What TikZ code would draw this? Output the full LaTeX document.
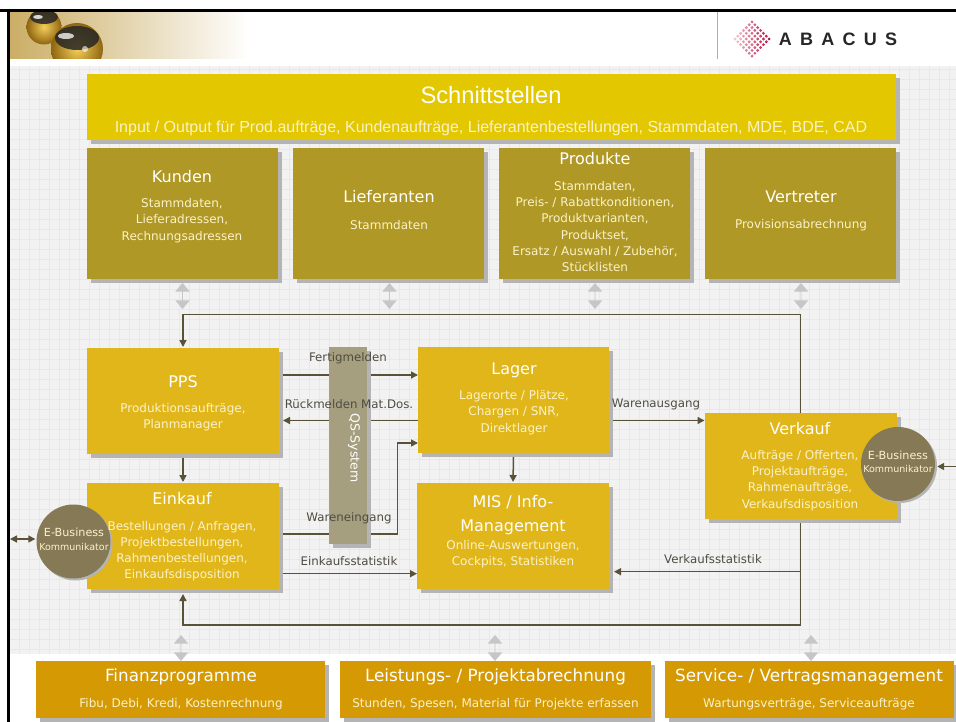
\documentclass[tikz,border=0pt]{standalone}
\usepackage{fontspec}
\setmainfont{DejaVu Sans}
\newfontfamily\arialf{Liberation Sans}
\usetikzlibrary{arrows.meta,shapes.arrows,shadows,calc}
\definecolor{bgg}{HTML}{F2F2F2}
\definecolor{gridg}{HTML}{E8E8E8}
\definecolor{shg}{HTML}{B4B4B4}
\definecolor{topy}{HTML}{E3C700}
\definecolor{olive}{HTML}{B09826}
\definecolor{gold}{HTML}{E1B61A}
\definecolor{orng}{HTML}{D59A03}
\definecolor{qsc}{HTML}{A69F7F}
\definecolor{circ}{HTML}{857A55}
\definecolor{linec}{HTML}{5A5238}
\definecolor{gra}{HTML}{C6C6C6}
\definecolor{lblc}{HTML}{4F4C40}
\definecolor{subw}{HTML}{FBF2C8}
\definecolor{crim}{HTML}{B80A3C}
\definecolor{hdra}{HTML}{CBAE66}
\definecolor{hdrb}{HTML}{EBD5B4}
\definecolor{ballo}{HTML}{8F6410}
\definecolor{balli}{HTML}{F3CF5A}
\tikzset{
  pbox/.style={rectangle,inner sep=0pt,outer sep=0pt,general shadow={shadow xshift=4pt,shadow yshift=-4pt,fill=shg}},
  conn/.style={draw=linec,line width=1.5pt,-{Triangle[length=7pt,width=7pt]}},
  dconn/.style={draw=linec,line width=1.5pt,{Triangle[length=7pt,width=7pt]}-{Triangle[length=7pt,width=7pt]}},
  gar/.style={double arrow,fill=gra,draw=none,shape border rotate=90,minimum height=26pt,minimum width=14.5pt,inner sep=0pt,double arrow head extend=3.5pt,double arrow tip angle=80},
  ttl/.style={text=white,font=\fontsize{16}{18}\selectfont,inner sep=0pt,align=center},
  ttlbig/.style={text=white,font=\fontsize{16.8}{18}\selectfont,inner sep=0pt,align=center},
  ttlb/.style={text=white,font=\fontsize{16}{24}\selectfont,inner sep=0pt,align=center},
  bod/.style={text=subw,font=\fontsize{12}{16.2}\selectfont,inner sep=0pt,align=center},
  lbl/.style={text=lblc,font=\fontsize{11.8}{13}\selectfont,inner sep=0pt},
  ebt/.style={text=subw,font=\fontsize{11.2}{13}\selectfont,inner sep=0pt},
  ebs/.style={text=subw,font=\fontsize{9.5}{13}\selectfont,inner sep=0pt},
  ecirc/.style={circle,fill=circ,inner sep=0pt,minimum size=74pt,general shadow={shadow xshift=2pt,shadow yshift=-2pt,fill=shg}},
}
\begin{document}
\begin{tikzpicture}[x=1pt,y=-1pt]
\useasboundingbox (0,0) rectangle (956,722);
% page frame and background
\fill[white] (0,0) rectangle (956,722);
\fill[bgg] (10,66) rectangle (956,654);
\begin{scope}
\clip (10,66) rectangle (956,654);
\foreach \gx in {19,29,...,955} \draw[gridg,line width=0.9pt] (\gx,66) -- (\gx,654);
\foreach \gy in {69,79,...,654} \draw[gridg,line width=0.9pt] (10,\gy) -- (956,\gy);
\end{scope}
% header picture
\shade[left color=hdra,middle color=hdrb,right color=white] (10,12) rectangle (250,59);
\begin{scope}
\clip (10,12) rectangle (250,59);
\shade[inner color=balli,outer color=ballo] (44,27) circle (17.5);
\fill[black!85,opacity=.85] (44,17) ellipse (14 and 7);
\fill[white,opacity=.8] (38,17) ellipse (5 and 2);
\shade[inner color=balli,outer color=ballo] (77,49) circle (26);
\fill[black!85,opacity=.85] (77,38) ellipse (22 and 12);
\fill[white,opacity=.75] (66,36) ellipse (8 and 3);
\fill[white,opacity=.6] (85,49) circle (3);
\end{scope}
\draw[line width=1pt,draw=hdra] (717,12) -- (717,59);
\fill[black] (0,9) rectangle (956,12);
\fill[black] (7,9) rectangle (10,722);
% logo
\foreach \li in {0,...,6} \foreach \lj in {0,...,6} {
  \pgfmathsetmacro{\lx}{752+(\li-\lj)*2.85}
  \pgfmathsetmacro{\ly}{39+(\li+\lj-6)*2.85}
  \pgfmathtruncatemacro{\lmix}{22+(\li+6-\lj)*6.4}
  \fill[crim!\lmix!white] (\lx,\ly) circle (1.6);
}
\node[inner sep=0pt,text=black!85,font=\arialf\bfseries\fontsize{18}{20}\selectfont\addfontfeature{LetterSpace=46}] (logo) at (838,39) {ABACUS};
% boxes
\node[pbox,fill=topy,minimum width=809pt,minimum height=66pt] (schnitt) at (491.5,107) {};
\node[pbox,fill=olive,minimum width=191pt,minimum height=131pt] (kunden) at (182.5,213.5) {};
\node[pbox,fill=olive,minimum width=191pt,minimum height=131pt] (liefer) at (388.5,213.5) {};
\node[pbox,fill=olive,minimum width=191pt,minimum height=131pt] (prod) at (594.5,213.5) {};
\node[pbox,fill=olive,minimum width=191pt,minimum height=131pt] (vertr) at (800.5,213.5) {};
\node[pbox,fill=gold,minimum width=192pt,minimum height=106pt] (pps) at (183,401) {};
\node[pbox,fill=gold,minimum width=191pt,minimum height=106pt] (lager) at (513.5,400) {};
\node[pbox,fill=gold,minimum width=192pt,minimum height=106pt] (eink) at (183,536) {};
\node[pbox,fill=gold,minimum width=192pt,minimum height=106pt] (mis) at (513,536) {};
\node[pbox,fill=gold,minimum width=192pt,minimum height=106pt] (verk) at (800.5,466) {};
\node[pbox,fill=orng,minimum width=289pt,minimum height=57pt] (fin) at (180.5,689.5) {};
\node[pbox,fill=orng,minimum width=311pt,minimum height=57pt] (leist) at (495.5,689.5) {};
\node[pbox,fill=orng,minimum width=289pt,minimum height=57pt] (serv) at (809.5,689.5) {};
% grey double arrows
\node[gar] (ga1) at (182.5,296) {};
\node[gar] (ga2) at (389.5,296) {};
\node[gar] (ga3) at (595,296) {};
\node[gar] (ga4) at (801,296) {};
\node[gar] (ga5) at (181,648) {};
\node[gar] (ga6) at (495,648) {};
\node[gar] (ga7) at (811,648) {};
% connectors
\coordinate (toprail) at (0,314.5);
\coordinate (botrail) at (0,625);
\coordinate (wrail) at (397.5,0);
\coordinate (leftend) at (10,539);
\coordinate (rightend) at (956,466.5);
\draw[conn] (verk.north) -- (verk.north |- toprail) -| ([yshift=1pt]pps.north);
\draw[conn] ([yshift=-4pt]verk.south) -- (verk.south |- botrail) -| ([yshift=-5pt]eink.south);
\draw[conn] ([xshift=4pt,yshift=26pt]pps.east) -- ([yshift=25pt]lager.west);
\draw[conn] ([yshift=-20.5pt]lager.west) -- ([xshift=4pt,yshift=-19.5pt]pps.east);
\draw[conn] ([yshift=-4pt]pps.south) -- ([yshift=1pt]eink.north);
\draw[conn] ([yshift=-4pt]lager.south) -- ([yshift=1pt]mis.north);
\draw[conn] ([xshift=4pt,yshift=2pt]eink.east) -- (wrail |- {$(eink.east)+(0,-2)$}) |- ([yshift=-43pt]lager.west);
\draw[conn] ([xshift=4pt,yshift=-37.7pt]eink.east) -- ([yshift=-37.7pt]mis.west);
\draw[conn] (verk.south |- {$(mis.east)+(0,35.7)$}) -- ([xshift=5pt,yshift=-35.7pt]mis.east);
\draw[conn] ([xshift=4pt,yshift=-20.5pt]lager.east) -- ([yshift=45.5pt]verk.west);
% QS bar
\node[pbox,fill=qsc,minimum width=38pt,minimum height=197pt] (qs) at (348,445.5) {};
\node[text=white,rotate=-90,inner sep=0pt,font=\fontsize{12.5}{14}\selectfont] (qst) at (354,448) {QS-System};
% circles
\node[ecirc] (ebl) at (73.5,541.5) {};
\node[ecirc] (ebr) at (898,464) {};
\draw[dconn] (leftend) -- ([xshift=-1pt,yshift=2.5pt]ebl.west);
\draw[conn] (rightend) -- ([xshift=2pt,yshift=-2.5pt]ebr.east);
% texts
\node[text=white,inner sep=0pt,font=\arialf\fontsize{23.7}{26}\selectfont] (t0) at (491,95) {Schnittstellen};
\node[text=subw,inner sep=0pt,font=\arialf\fontsize{16}{18}\selectfont] (b0) at (491,128) {Input / Output für Prod.aufträge, Kundenaufträge, Lieferantenbestellungen, Stammdaten, MDE, BDE, CAD};
\node[ttl] (t1) at (182,177) {Kunden};
\node[bod] (b1) at (182,220.5) {Stammdaten,\\Lieferadressen,\\Rechnungsadressen};
\node[ttl] (t2) at (389,197) {Lieferanten};
\node[bod] (b2) at (389,225) {Stammdaten};
\node[ttl] (t3) at (595,159) {Produkte};
\node[bod] (b3) at (595,226.5) {Stammdaten,\\Preis- / Rabattkonditionen,\\Produktvarianten,\\Produktset,\\Ersatz / Auswahl / Zubehör,\\Stücklisten};
\node[ttl] (t4) at (801,197) {Vertreter};
\node[bod] (b4) at (801,225) {Provisionsabrechnung};
\node[ttl] (t5) at (183,382) {PPS};
\node[bod] (b5) at (183,417) {Produktionsaufträge,\\Planmanager};
\node[ttl] (t6) at (514,370) {Lager};
\node[bod] (b6) at (514,412.5) {Lagerorte / Plätze,\\Chargen / SNR,\\Direktlager};
\node[ttl] (t7) at (182,499) {Einkauf};
\node[bod] (b7) at (182,551) {Bestellungen / Anfragen,\\Projektbestellungen,\\Rahmenbestellungen,\\Einkaufsdisposition};
\node[ttlb] (t8) at (513,515) {MIS / Info-\\Management};
\node[bod] (b8) at (513,554) {Online-Auswertungen,\\Cockpits, Statistiken};
\node[ttl] (t9) at (800,429) {Verkauf};
\node[bod] (b9) at (800,480.5) {Aufträge / Offerten,\\Projektaufträge,\\Rahmenaufträge,\\Verkaufsdisposition};
\node[ttlbig] (t10) at (181,677) {Finanzprogramme};
\node[bod] (b10) at (181,704) {Fibu, Debi, Kredi, Kostenrechnung};
\node[ttlbig] (t11) at (495.5,677) {Leistungs- / Projektabrechnung};
\node[bod] (b11) at (495.5,704) {Stunden, Spesen, Material für Projekte erfassen};
\node[ttlbig] (t12) at (809,677) {Service- / Vertragsmanagement};
\node[bod] (b12) at (809,704) {Wartungsverträge, Serviceaufträge};
\node[ebt] (e1) at (74,532.5) {E-Business};
\node[ebs] (e2) at (74,547) {Kommunikator};
\node[ebt] (e3) at (898,455) {E-Business};
\node[ebs] (e4) at (898,469) {Kommunikator};
% connector labels
\node[lbl] (l1) at (348,358) {Fertigmelden};
\node[lbl] (l2) at (349,404) {Rückmelden Mat.Dos.};
\node[lbl] (l3) at (349,518) {Wareneingang};
\node[lbl] (l4) at (349,561) {Einkaufsstatistik};
\node[lbl] (l5) at (713,559) {Verkaufsstatistik};
\node[lbl] (l6) at (656,404) {Warenausgang};
\end{tikzpicture}
\end{document}
